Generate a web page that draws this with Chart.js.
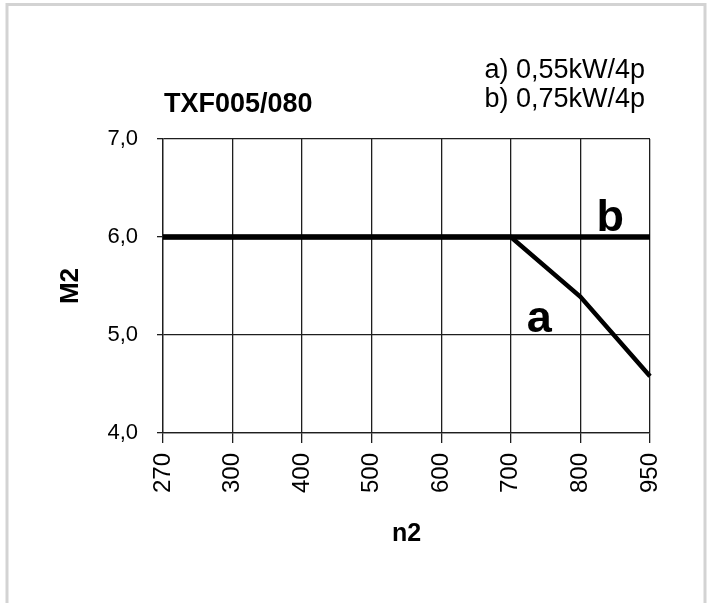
<!DOCTYPE html>
<html>
<head>
<meta charset="utf-8">
<title>TXF005/080</title>
<script src="https://cdn.jsdelivr.net/npm/chart.js@4.4.0/dist/chart.umd.min.js"></script>
<style>
  html, body { margin: 0; padding: 0; background: #fff; }
  #wrap { width: 712px; height: 603px; }
</style>
</head>
<body>
<div id="wrap"><canvas id="torqueChart" width="712" height="603"></canvas></div>
<script>
// ======================================
// Data
// ======================================

const speedLabels = ["270", "300", "400", "500", "600", "700", "800", "950"];
const torqueA = [6.0, 6.0, 6.0, 6.0, 6.0, 6.0, 5.39, 4.58];
const torqueB = [6.0, 6.0, 6.0, 6.0, 6.0, 6.0, 6.0, 6.0];
const torqueTicks = [4, 5, 6, 7];
const seriesNames = ["a", "b"];
const chartTitle = "TXF005/080";
const motorLegend = ["a) 0,55kW/4p", "b) 0,75kW/4p"];

const FONT = "'Liberation Sans', Arial, sans-serif";
const GRID = "#1e1e1e";

// ======================================
// Frame, title, legend and curve labels
// ======================================

const chartDecorations = {
  id: "chartDecorations",
  beforeDraw(chart) {
    const ctx = chart.ctx;
    ctx.save();
    ctx.fillStyle = "#fff";
    ctx.fillRect(0, 0, chart.width, chart.height);
    ctx.strokeStyle = "#d3d3d3";
    ctx.lineWidth = 3;
    ctx.beginPath();
    ctx.moveTo(7, chart.height);
    ctx.lineTo(7, 4.5);
    ctx.lineTo(705, 4.5);
    ctx.lineTo(705, chart.height);
    ctx.stroke();
    ctx.restore();
  },
  afterDatasetsDraw(chart) {
    const { ctx, chartArea, scales: { x, y } } = chart;
    ctx.save();
    ctx.fillStyle = "#000";
    ctx.textBaseline = "alphabetic";

    ctx.font = `bold 27px ${FONT}`;
    ctx.textAlign = "left";
    ctx.fillText(chartTitle, chartArea.left + 1, 112);

    ctx.font = `27px ${FONT}`;
    ctx.textAlign = "right";
    ctx.fillText(motorLegend[0], 645, 78);
    ctx.fillText(motorLegend[1], 645, 107);

    ctx.font = `bold 45px ${FONT}`;
    ctx.textAlign = "center";
    ctx.fillText(seriesNames[1], x.getPixelForValue(6.43), y.getPixelForValue(6.06));
    ctx.fillText(seriesNames[0], x.getPixelForValue(5.41), y.getPixelForValue(5.03));
    ctx.restore();
  },
};

// ======================================
// Chart
// ======================================

new Chart(document.getElementById("torqueChart"), {
  type: "line",
  data: {
    labels: speedLabels,
    datasets: [
      {
        label: seriesNames[0],
        data: torqueA,
        borderColor: "#000",
        borderWidth: 4.5,
        pointRadius: 0,
        tension: 0,
      },
      {
        label: seriesNames[1],
        data: torqueB,
        borderColor: "#000",
        borderWidth: 5.5,
        pointRadius: 0,
        tension: 0,
      },
    ],
  },
  options: {
    responsive: false,
    animation: false,
    devicePixelRatio: 1,
    layout: { padding: { left: 0, top: 139, right: 62, bottom: 0 } },
    plugins: {
      legend: { display: false },
      tooltip: { enabled: false },
    },
    scales: {
      x: {
        type: "category",
        offset: false,
        grid: { color: GRID, lineWidth: 1.3, tickLength: 10 },
        border: { color: GRID, width: 1.3 },
        ticks: {
          color: "#000",
          font: { family: FONT, size: 24 },
          minRotation: 90,
          maxRotation: 90,
          padding: 10,
          autoSkip: false,
        },
        title: {
          display: true,
          text: "n2",
          color: "#000",
          font: { family: FONT, size: 25, weight: "bold" },
          padding: { top: 0, bottom: 54 },
        },
        afterFit(scale) {
          scale.height = 170;
        },
      },
      y: {
        min: 4,
        max: 7,
        grid: { color: GRID, lineWidth: 1.3, tickLength: 6 },
        border: { color: GRID, width: 1.3 },
        ticks: {
          color: "#000",
          font: { family: FONT, size: 22 },
          padding: 19,
          callback: (value) => value.toFixed(1).replace(".", ","),
        },
        afterBuildTicks(scale) {
          scale.ticks = torqueTicks.map((value) => ({ value }));
        },
        title: {
          display: true,
          text: "M2",
          color: "#000",
          font: { family: FONT, size: 26, weight: "bold" },
          padding: { top: 55, bottom: 0 },
        },
        afterFit(scale) {
          scale.width = 163;
        },
      },
    },
  },
  plugins: [chartDecorations],
});
</script>
</body>
</html>
